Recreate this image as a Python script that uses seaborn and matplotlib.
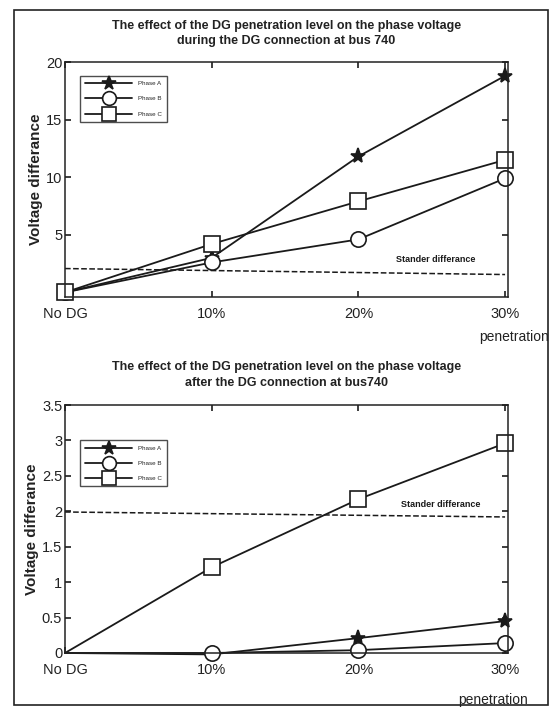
import numpy as np
import pandas as pd
import matplotlib
matplotlib.use("Agg")
import matplotlib.pyplot as plt
from matplotlib.patches import Rectangle
import seaborn as sns

# data
levels = ["No DG", "10%", "20%", "30%"]
phases = ["Phase A", "Phase B", "Phase C"]

during_a = [0.0, 3.0, 11.8, 18.8]
during_b = [0.0, 2.6, 4.6, 9.9]
during_c = [0.0, 4.2, 7.9, 11.5]
during_std = [2.07, 1.55]

after_a = [0.0, -0.02, 0.21, 0.45]
after_b = [0.0, 0.0, 0.04, 0.14]
after_c = [0.0, 1.21, 2.17, 2.96]
after_std = [1.99, 1.92]


def long_frame(a, b, c):
    rows = []
    for name, vals in zip(phases, [a, b, c]):
        for i, v in enumerate(vals):
            rows.append({"x": i, "y": v, "phase": name})
    return pd.DataFrame(rows)


sns.set_theme(style="white")
plt.rcParams["font.family"] = ["Liberation Sans", "DejaVu Sans"]

fig = plt.figure(figsize=(5.56, 7.12), dpi=100)
fig.patches.append(Rectangle((14 / 556, 1 - 705 / 712), 534 / 556, 695 / 712,
                             transform=fig.transFigure, fill=False,
                             edgecolor="#222222", lw=1.2))

ax1 = fig.add_axes([65 / 556, 1 - 297 / 712, 443 / 556, 235 / 712])
ax2 = fig.add_axes([65 / 556, 1 - 653 / 712, 443 / 556, 248 / 712])

markers = {"Phase A": "*", "Phase B": "o", "Phase C": "s"}


def draw(ax, a, b, c, std, ylim, yticks, ylabels, title, txt_xy, leg_top,
         first_marker, title_pad):
    df = long_frame(a, b, c)
    sns.lineplot(data=df, x="x", y="y", style="phase", markers=markers,
                 dashes=False, color="#1a1a1a", lw=1.3, markersize=11,
                 markerfacecolor="white", markeredgecolor="#1a1a1a",
                 markeredgewidth=1.2, ax=ax)
    for line in ax.lines:
        # star markers look filled in the scan
        if line.get_marker() == "*":
            line.set_markerfacecolor("#1a1a1a")
        line.set_clip_on(False)
        if not first_marker:
            line.set_markevery([1, 2, 3])
    ax.plot([0, 3], std, ls="--", color="#1a1a1a", lw=1.1)
    ax.text(txt_xy[0], txt_xy[1], "Stander differance", fontsize=6.5,
            fontweight="bold", color="#1a1a1a", ha="center", va="center")
    ax.set_xlim(0, 3.02)
    ax.set_ylim(*ylim)
    ax.set_xticks(range(4))
    ax.set_xticklabels(levels, fontsize=10.5, color="#222222")
    ax.set_yticks(yticks)
    ax.set_yticklabels(ylabels, fontsize=10.5, color="#222222")
    ax.tick_params(direction="in", length=4, top=True, right=True,
                   bottom=True, left=True, pad=2)
    ax.tick_params(axis="x", pad=7)
    ax.set_xlabel("")
    ax.set_ylabel("Voltage differance", fontsize=11, fontweight="bold",
                  color="#222222", labelpad=2)
    ax.set_title(title, fontsize=9, fontweight="bold", color="#222222",
                 pad=title_pad, linespacing=1.35)
    for s in ax.spines.values():
        s.set_color("#222222")
        s.set_linewidth(1.1)
    ax.legend(loc="upper left", bbox_to_anchor=(0.027, leg_top),
              fontsize=4.5, handlelength=7.5, frameon=True, fancybox=False,
              edgecolor="#222222", borderpad=0.8, labelspacing=1.6,
              handletextpad=1.0, markerscale=0.9)


draw(ax1, during_a, during_b, during_c, during_std, (-0.4, 20),
     [5, 10, 15, 20], ["5", "10", "15", "20"],
     "The effect of the DG penetration level on the phase voltage\n"
     "during the DG connection at bus 740",
     (2.53, 2.85), 0.955, True, 13)
draw(ax2, after_a, after_b, after_c, after_std, (0, 3.5),
     [0, 0.5, 1, 1.5, 2, 2.5, 3, 3.5],
     ["0", "0.5", "1", "1.5", "2", "2.5", "3", "3.5"],
     "The effect of the DG penetration level on the phase voltage\n"
     "after the DG connection at bus740",
     (2.56, 2.1), 0.87, False, 14)

fig.text(514 / 556, 1 - 337 / 712, "penetration", fontsize=10,
         color="#222222", ha="center", va="center")
fig.text(493 / 556, 1 - 700 / 712, "penetration", fontsize=10,
         color="#222222", ha="center", va="center")

fig.savefig("out.png", dpi=100)
